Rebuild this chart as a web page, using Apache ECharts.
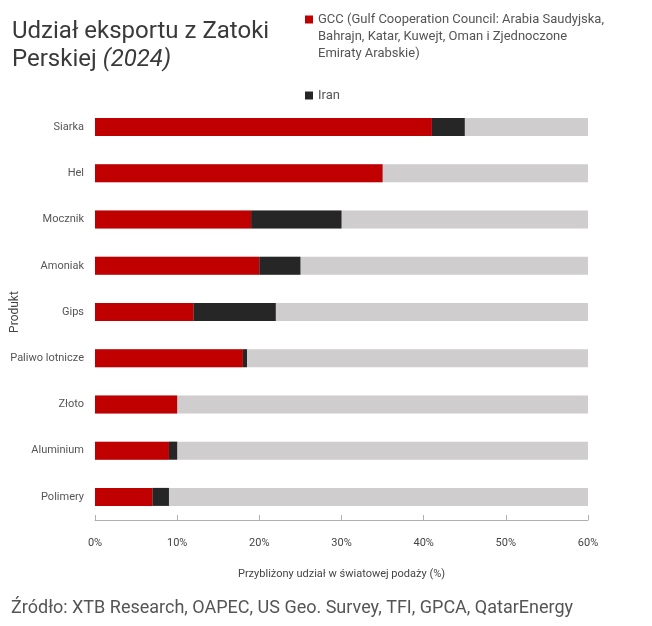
<!DOCTYPE html>
<html>
<head>
    <meta charset="utf-8">
    <title>Udział eksportu z Zatoki Perskiej</title>
    <script src="https://cdn.jsdelivr.net/npm/echarts@6/dist/echarts.min.js"></script>
    <style>
        html, body { margin: 0; padding: 0; background: #fff; }
    </style>
</head>
<body>
    <div id="main" style="width: 652px;height:626px;"></div>
    <script type="text/javascript">
        var categories = ['Siarka', 'Hel', 'Mocznik', 'Amoniak', 'Gips', 'Paliwo lotnicze', 'Złoto', 'Aluminium', 'Polimery'];
        var gcc = [41, 35, 19, 20, 12, 18, 10, 9, 7];
        var iran = [4, 0, 11, 5, 10, 0.5, 0, 1, 2];
        var xTicks = [0, 10, 20, 30, 40, 50, 60];

        var font = 'Roboto, "Noto Sans", sans-serif';
        var myChart = echarts.init(document.getElementById('main'));

        var option = {
            animation: false,
            textStyle: { fontFamily: font },
            title: [{
                left: 7,
                top: 13,
                text: 'Udział eksportu z Zatoki\nPerskiej {i|(2024)}',
                textStyle: {
                    fontFamily: font,
                    fontSize: 24,
                    fontWeight: 'normal',
                    color: '#3a3a3a',
                    lineHeight: 28,
                    rich: {
                        i: { fontFamily: font, fontSize: 24, fontStyle: 'italic', color: '#3a3a3a', lineHeight: 28 }
                    }
                }
            }, {
                left: 6,
                top: 594,
                text: 'Źródło: XTB Research, OAPEC, US Geo. Survey, TFI, GPCA, QatarEnergy',
                textStyle: { fontFamily: font, fontSize: 18, fontWeight: 'normal', color: '#555' }
            }],
            legend: [{
                left: 305,
                top: -23,
                padding: 0,
                data: ['GCC'],
                icon: 'rect',
                itemWidth: 8,
                itemHeight: 8,
                formatter: function () {
                    // two empty lines first so the marker sits next to the first line
                    return '\n\nGCC (Gulf Cooperation Council: Arabia Saudyjska,\nBahrajn, Katar, Kuwejt, Oman i Zjednoczone\nEmiraty Arabskie)';
                },
                textStyle: { fontFamily: font, fontSize: 13, color: '#555', lineHeight: 17 }
            }, {
                left: 305,
                top: 89,
                padding: 0,
                data: ['Iran'],
                icon: 'rect',
                itemWidth: 8,
                itemHeight: 8,
                textStyle: { fontFamily: font, fontSize: 13, color: '#555' }
            }],
            grid: { left: 95, right: 64, top: 104, bottom: 106, containLabel: false, outerBoundsMode: 'none' },
            xAxis: {
                type: 'value',
                min: 0,
                max: 60,
                interval: 10,
                name: 'Przybliżony udział w światowej podaży (%)',
                nameLocation: 'middle',
                nameGap: 49,
                nameMoveOverlap: false,
                nameTextStyle: { fontFamily: font, fontSize: 11, color: '#444' },
                axisLine: { show: true, lineStyle: { color: '#b0b0b0' } },
                axisTick: { show: true, inside: true, length: 5, lineStyle: { color: '#b0b0b0' } },
                splitLine: { show: false },
                axisLabel: {
                    margin: 18,
                    fontSize: 11,
                    color: '#444',
                    formatter: function (v) { return xTicks.indexOf(v) >= 0 ? v + '%' : ''; }
                }
            },
            yAxis: {
                type: 'category',
                inverse: true,
                data: categories,
                name: 'Produkt',
                nameLocation: 'middle',
                nameGap: 74,
                nameRotate: 90,
                nameMoveOverlap: false,
                nameTextStyle: { fontFamily: font, fontSize: 12, color: '#444' },
                axisLine: { show: false },
                axisTick: { show: false },
                axisLabel: { margin: 11, fontSize: 11, color: '#555' }
            },
            series: [{
                name: 'GCC',
                type: 'bar',
                stack: 'total',
                barWidth: 18,
                data: gcc,
                itemStyle: { color: '#c00000' },
                showBackground: true,
                backgroundStyle: { color: '#d0cdce' }
            }, {
                name: 'Iran',
                type: 'bar',
                stack: 'total',
                barWidth: 18,
                data: iran,
                itemStyle: { color: '#262626' }
            }]
        };

        myChart.setOption(option);
    </script>
</body>
</html>
